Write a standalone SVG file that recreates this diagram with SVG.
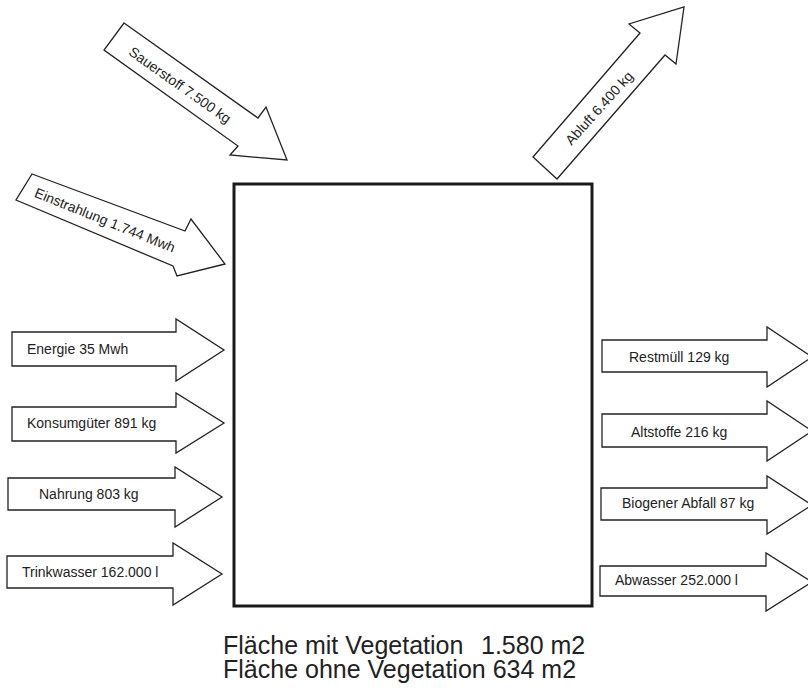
<svg xmlns="http://www.w3.org/2000/svg" width="808" height="690" viewBox="0 0 808 690">
<style>
.arr{fill:#fff;stroke:#222;stroke-width:1.3;stroke-linejoin:miter}
.lbl{font-family:"Liberation Sans",Arial,sans-serif;font-size:14px;fill:#222}
.big{font-family:"Liberation Sans",Arial,sans-serif;font-size:25px;fill:#222}
</style>
<rect width="808" height="690" fill="#fff"/>
<g id="system">
<rect x="234" y="184" width="358" height="422" fill="#fff" stroke="#1a1a1a" stroke-width="3"/>
</g>
<g id="connectors">
<g id="sauerstoff">
<polygon class="arr" points="124,23 258,118 266,107 287,160 230,155 238,146 104,50"/>
<text class="lbl" text-anchor="middle" transform="translate(180,85) rotate(35.3)" dy="5">Sauerstoff 7.500 kg</text>
</g>
<g id="einstrahlung">
<polygon class="arr" points="32,174 185,231 191,219 225,264 177,276 173,266 16,200"/>
<text class="lbl" text-anchor="middle" transform="translate(105,220) rotate(22)" dy="5">Einstrahlung 1.744 Mwh</text>
</g>
<g id="abluft">
<polygon class="arr" points="533,157 640,33 629,24 684,7 676,64 665,55 557,179"/>
<text class="lbl" text-anchor="middle" transform="translate(599,108) rotate(-48)" dy="5">Abluft 6.400 kg</text>
</g>
<g id="energie">
<polygon class="arr" points="12,332 176,332 176,319 224,350 176,381 176,366 12,366"/>
<text class="lbl" x="27" y="354">Energie 35 Mwh</text>
</g>
<g id="konsumgueter">
<polygon class="arr" points="12,407 176,407 176,393 224,423 176,453 176,441 12,441"/>
<text class="lbl" x="27" y="428">Konsumgüter 891 kg</text>
</g>
<g id="nahrung">
<polygon class="arr" points="8,478 175,478 175,467 222,497 175,527 175,510 8,510"/>
<text class="lbl" x="39" y="499">Nahrung 803 kg</text>
</g>
<g id="trinkwasser">
<polygon class="arr" points="7,556 173,556 173,543 222,574 173,605 173,588 7,588"/>
<text class="lbl" x="22" y="577">Trinkwasser 162.000 l</text>
</g>
<g id="restmuell">
<polygon class="arr" points="602,340 767,340 767,327 812,357 767,387 767,372 602,372"/>
<text class="lbl" x="629" y="362">Restmüll 129 kg</text>
</g>
<g id="altstoffe">
<polygon class="arr" points="602,414 767,414 767,401 812,431 767,461 767,447 602,447"/>
<text class="lbl" x="631" y="437">Altstoffe 216 kg</text>
</g>
<g id="biogen">
<polygon class="arr" points="601,488 767,488 767,476 812,505 767,534 767,520 601,520"/>
<text class="lbl" x="622" y="508">Biogener Abfall 87 kg</text>
</g>
<g id="abwasser">
<polygon class="arr" points="600,566 766,566 766,553 812,582 766,611 766,596 600,596"/>
<text class="lbl" x="615" y="585">Abwasser 252.000 l</text>
</g>
</g>
<g id="caption">
<text class="big" x="223" y="654">Fläche mit Vegetation <tspan x="481">1.580 m2</tspan></text>
<text class="big" x="223" y="678">Fläche ohne Vegetation 634 m2</text>
</g>
</svg>
